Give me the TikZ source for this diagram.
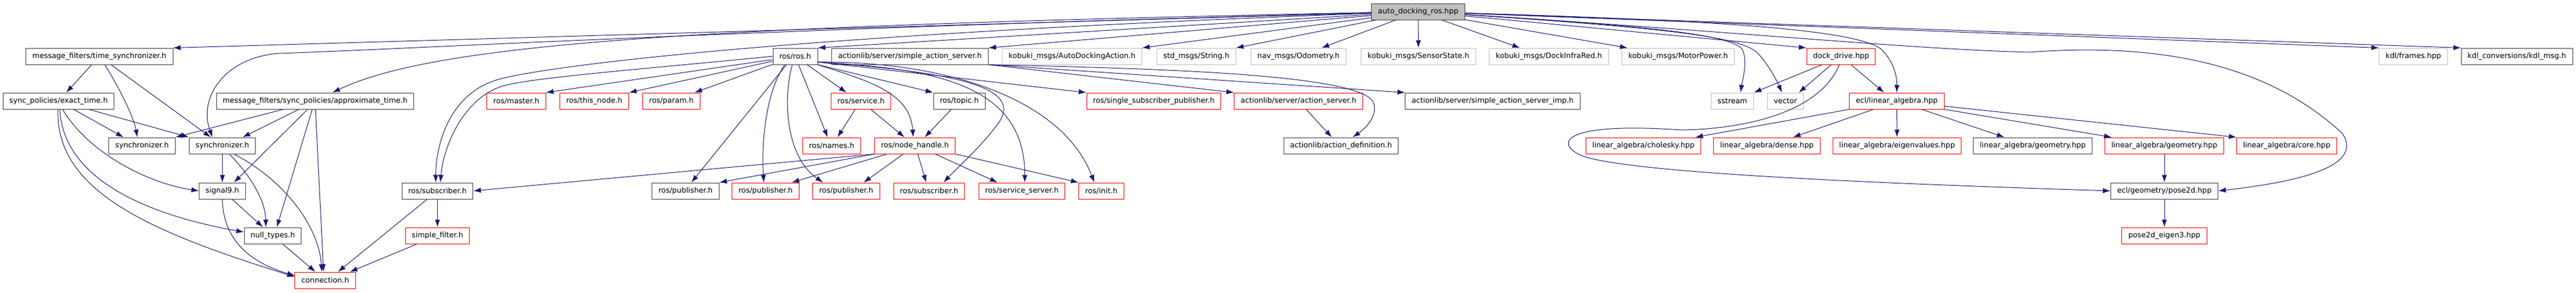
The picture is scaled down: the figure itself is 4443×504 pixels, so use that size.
\documentclass[tikz,border=0pt]{standalone}
\usepackage{fontspec}
\setmainfont{DejaVu Sans}
\usetikzlibrary{arrows.meta}
\definecolor{edgeblue}{HTML}{191970}
\definecolor{boxgray}{HTML}{BFBFBF}
\definecolor{boxdark}{HTML}{404040}
\tikzstyle{filebox} = [rectangle, draw, line width=1pt, minimum height=28pt, inner xsep=11pt, inner ysep=0pt, text centered, font=\fontsize{12.7}{14}\selectfont]
\tikzstyle{rootbox} = [filebox, draw=boxdark, fill=boxgray]
\tikzstyle{docbox} = [filebox, draw=boxdark]
\tikzstyle{redbox} = [filebox, draw=red]
\tikzstyle{extbox} = [filebox, draw=boxgray]
\tikzstyle{arrow} = [draw=edgeblue, line width=1pt, ->, >={Latex[length=13pt,width=9pt]}]
\begin{document}
\begin{tikzpicture}[x=1pt, y=-1pt]
\useasboundingbox (0,0) rectangle (4443,504);

\node (root) [rootbox] at (2446,20) {auto\_docking\_ros.hpp};

\node (tsync) [docbox] at (171.5,97) {message\_filters/time\_synchronizer.h};
\node (rosros) [docbox] at (1371.5,97) {ros/ros.h};
\node (sas) [docbox] at (1569.5,97) {actionlib/server/simple\_action\_server.h};
\node (autodock) [extbox] at (1849,97) {kobuki\_msgs/AutoDockingAction.h};
\node (string) [extbox] at (2063.5,97) {std\_msgs/String.h};
\node (odom) [extbox] at (2239.5,97) {nav\_msgs/Odometry.h};
\node (sensor) [extbox] at (2446.5,97) {kobuki\_msgs/SensorState.h};
\node (infrared) [extbox] at (2671.5,97) {kobuki\_msgs/DockInfraRed.h};
\node (motor) [extbox] at (2894.5,97) {kobuki\_msgs/MotorPower.h};
\node (dockdrive) [redbox] at (3175.5,97) {dock\_drive.hpp};
\node (frames) [extbox] at (4162.5,97) {kdl/frames.hpp};
\node (kdlmsg) [docbox] at (4341,97) {kdl\_conversions/kdl\_msg.h};

\node (exact) [docbox] at (101,174) {sync\_policies/exact\_time.h};
\node (approx) [docbox] at (543.5,174) {message\_filters/sync\_policies/approximate\_time.h};
\node (master) [redbox] at (890.5,174) {ros/master.h};
\node (thisnode) [redbox] at (1025,174) {ros/this\_node.h};
\node (param) [redbox] at (1158,174) {ros/param.h};
\node (service) [redbox] at (1485,174) {ros/service.h};
\node (topic) [docbox] at (1654.5,174) {ros/topic.h};
\node (ssp) [redbox] at (1990,174) {ros/single\_subscriber\_publisher.h};
\node (actsrv) [redbox] at (2239.5,174) {actionlib/server/action\_server.h};
\node (sasimp) [docbox] at (2574.5,174) {actionlib/server/simple\_action\_server\_imp.h};
\node (sstream) [extbox] at (2988,174) {sstream};
\node (vector) [extbox] at (3079.5,174) {vector};
\node (linalg) [redbox] at (3271.5,174) {ecl/linear\_algebra.hpp};

\node (syncA) [docbox] at (245,251) {synchronizer.h};
\node (syncB) [docbox] at (383.5,251) {synchronizer.h};
\node (names) [redbox] at (1434.5,251) {ros/names.h};
\node (nodehandle) [redbox] at (1578,251) {ros/node\_handle.h};
\node (actdef) [docbox] at (2313,251) {actionlib/action\_definition.h};
\node (cholesky) [redbox] at (2834.5,251) {linear\_algebra/cholesky.hpp};
\node (dense) [redbox] at (3047.5,251) {linear\_algebra/dense.hpp};
\node (eigen) [redbox] at (3272,251) {linear\_algebra/eigenvalues.hpp};
\node (geomA) [docbox] at (3506,251) {linear\_algebra/geometry.hpp};
\node (geomB) [redbox] at (3733,251) {linear\_algebra/geometry.hpp};
\node (core) [redbox] at (3944,251) {linear\_algebra/core.hpp};

\node (signal) [docbox] at (383.5,329) {signal9.h};
\node (subA) [docbox] at (754.5,329) {ros/subscriber.h};
\node (pubA) [docbox] at (1182.5,329) {ros/publisher.h};
\node (pubB) [redbox] at (1320.5,329) {ros/publisher.h};
\node (pubC) [redbox] at (1459.5,329) {ros/publisher.h};
\node (subB) [redbox] at (1602.5,329) {ros/subscriber.h};
\node (srvsrv) [redbox] at (1762.5,329) {ros/service\_server.h};
\node (init) [redbox] at (1899.5,329) {ros/init.h};
\node (pose) [docbox] at (3733,329) {ecl/geometry/pose2d.hpp};

\node (nulltypes) [docbox] at (470.5,406) {null\_types.h};
\node (simplefilter) [redbox] at (754.5,406) {simple\_filter.h};
\node (eigenthree) [redbox] at (3733,406) {pose2d\_eigen3.hpp};

\node (connection) [redbox] at (561,483) {connection.h};


\draw [arrow] (root) -- (tsync.north east);
\draw [arrow] (root) .. controls (1300,50) and (700,85) .. (480,92) .. controls (385,100) and (342,170) .. ([xshift=-17]syncB.north);
\draw [arrow] (root) .. controls (1200,45) and (750,75) .. ([xshift=30]approx.north);
\draw [arrow] (root) .. controls (1300,62) and (900,120) .. (850,140) .. controls (780,165) and (752,240) .. ([xshift=-3]subA.north);
\draw [arrow] (root) -- (rosros.north east);
\draw [arrow] (root) -- (sas.north east);
\draw [arrow] (root) -- (autodock.north east);
\draw [arrow] (root) -- (string.north east);
\draw [arrow] (root) -- ([xshift=40]odom.north);
\draw [arrow] (root) -- (sensor);
\draw [arrow] (root) -- ([xshift=-50]infrared.north);
\draw [arrow] (root) -- ([xshift=10]motor.north west);
\draw [arrow] (root) -- (dockdrive.north west);
\draw [arrow] (root) .. controls (2850,45) and (2985,60) .. (3005,85) .. controls (3015,105) and (3005,140) .. ([xshift=14]sstream.north);
\draw [arrow] (root) .. controls (2900,50) and (3000,65) .. (3030,90) .. controls (3050,110) and (3065,140) .. ([xshift=-6]vector.north);
\draw [arrow] (root) .. controls (2950,35) and (3200,50) .. (3245,85) .. controls (3265,105) and (3272,130) .. (linalg.north);
\draw [arrow] (root) .. controls (3000,55) and (3300,85) .. (3500,90) .. controls (3700,75) and (3900,100) .. (4040,230) .. controls (4080,290) and (3950,315) .. (pose.east);
\draw [arrow] (root) -- (frames.north west);
\draw [arrow] (root) -- (kdlmsg.north west);

\draw [arrow] (tsync) -- (exact);
\draw [arrow] (tsync) .. controls (205,150) and (230,200) .. ([xshift=-8]syncA.north);
\draw [arrow] (tsync) -- ([xshift=-20]syncB.north);

\draw [arrow] (exact) -- ([xshift=-32]syncA.north);
\draw [arrow] (exact) -- (syncB.north west);
\draw [arrow] ([xshift=7]exact.south) .. controls (150,260) and (250,315) .. (signal.west);
\draw [arrow] ([xshift=2]exact.south) .. controls (110,320) and (280,375) .. ([yshift=6]nulltypes.west);
\draw [arrow] ([xshift=-1]exact.south) .. controls (95,330) and (260,400) .. ([yshift=6]connection.west);

\draw [arrow] (syncB) -- (signal);
\draw [arrow] ([xshift=12]syncB.south) .. controls (430,300) and (458,345) .. ([xshift=-12]nulltypes.north);
\draw [arrow] ([xshift=20]syncB.south) .. controls (490,310) and (550,390) .. ([xshift=-6]connection.north);

\draw [arrow] ([xshift=-55]approx.south) -- (syncA.north east);
\draw [arrow] ([xshift=-28]approx.south) -- ([xshift=35]syncB.north);
\draw [arrow] ([xshift=-13]approx.south) -- ([xshift=20]signal.north);
\draw [arrow] ([xshift=-5]approx.south) -- ([xshift=7]nulltypes.north);
\draw [arrow] (approx) -- ([xshift=-3]connection.north);

\draw [arrow] ([xshift=17]signal.south) -- ([xshift=-17]nulltypes.north);
\draw [arrow] (signal.south) .. controls (385,420) and (440,455) .. ([yshift=8]connection.west);
\draw [arrow] (nulltypes) -- (connection);
\draw [arrow] (subA) -- ([xshift=22]connection.north);
\draw [arrow] (subA) -- (simplefilter);
\draw [arrow] (simplefilter) -- ([xshift=-10]connection.north east);

\draw [arrow] (rosros.west) .. controls (1100,120) and (900,135) .. (862,150) .. controls (800,172) and (765,250) .. ([xshift=5]subA.north);
\draw [arrow] (rosros) -- (master.north east);
\draw [arrow] (rosros) -- (thisnode.north east);
\draw [arrow] (rosros) -- ([xshift=-10]param.north east);
\draw [arrow] (rosros) -- ([xshift=-25]service.north);
\draw [arrow] (rosros) -- ([xshift=-7]names.north);
\draw [arrow] (rosros.south east) .. controls (1500,140) and (1570,160) .. ([xshift=-3]nodehandle.north);
\draw [arrow] (rosros.south east) -- (topic.north west);
\draw [arrow] ([xshift=-15]rosros.south) -- ([xshift=10]pubA.north);
\draw [arrow] ([xshift=-18]rosros.south) .. controls (1320,160) and (1313,250) .. ([xshift=-3]pubB.north);
\draw [arrow] ([xshift=-5]rosros.south) .. controls (1350,170) and (1355,270) .. ([xshift=-40]pubC.north);
\draw [arrow] ([yshift=-10]rosros.east) .. controls (1650,125) and (1770,150) .. (1720,215) .. controls (1690,255) and (1650,290) .. ([xshift=25]subB.north);
\draw [arrow] ([yshift=-10]rosros.east) .. controls (1600,118) and (1768,140) .. ([xshift=5]srvsrv.north);
\draw [arrow] ([yshift=-10]rosros.east) .. controls (1620,105) and (1830,165) .. ([xshift=-12]init.north);
\draw [arrow] ([yshift=-10]rosros.east) -- (ssp.north west);

\draw [arrow] (sas.south east) -- (actsrv.north west);
\draw [arrow] (sas.south east) .. controls (2000,118) and (2340,128) .. (2368,175) .. controls (2380,200) and (2350,225) .. ([xshift=20]actdef.north);
\draw [arrow] (sas.south east) -- (sasimp.north west);

\draw [arrow] ([xshift=-10]service.south) -- ([xshift=10]names.north);
\draw [arrow] ([xshift=17]service.south) -- ([xshift=-18]nodehandle.north);
\draw [arrow] (topic) -- ([xshift=17]nodehandle.north);
\draw [arrow] (actsrv) -- ([xshift=-16]actdef.north);

\draw [arrow] (nodehandle.south west) -- (subA.east);
\draw [arrow] (nodehandle.south west) -- (pubA.north east);
\draw [arrow] ([xshift=22]nodehandle.south west) -- ([xshift=45]pubB.north);
\draw [arrow] ([xshift=-20]nodehandle.south) -- ([xshift=30]pubC.north);
\draw [arrow] ([xshift=5]nodehandle.south) -- ([xshift=-5]subB.north);
\draw [arrow] ([xshift=35]nodehandle.south) -- ([xshift=-42]srvsrv.north);
\draw [arrow] (nodehandle.south east) -- (init.north west);

\draw [arrow] ([xshift=-33]dockdrive.south) -- (sstream.north east);
\draw [arrow] ([xshift=-17]dockdrive.south) -- ([xshift=23]vector.north);
\draw [arrow] ([xshift=17]dockdrive.south) -- ([xshift=-22]linalg.north);
\draw [arrow] ([xshift=-3]dockdrive.south) .. controls (3140,190) and (3020,222) .. (2900,224) .. controls (2700,210) and (2680,245) .. (2725,267) .. controls (2800,300) and (3300,318) .. (pose.west);

\draw [arrow] (linalg.south west) -- ([xshift=-10]cholesky.north east);
\draw [arrow] ([xshift=-40]linalg.south) -- ([xshift=45]dense.north);
\draw [arrow] (linalg) -- (eigen);
\draw [arrow] ([xshift=43]linalg.south) -- ([xshift=-49]geomA.north);
\draw [arrow] (linalg.south east) -- ([xshift=12]geomB.north west);
\draw [arrow] ([yshift=-9]linalg.east) -- (core.north west);
\draw [arrow] (geomB) -- (pose);
\draw [arrow] (pose) -- (eigenthree);

\end{tikzpicture}
\end{document}
